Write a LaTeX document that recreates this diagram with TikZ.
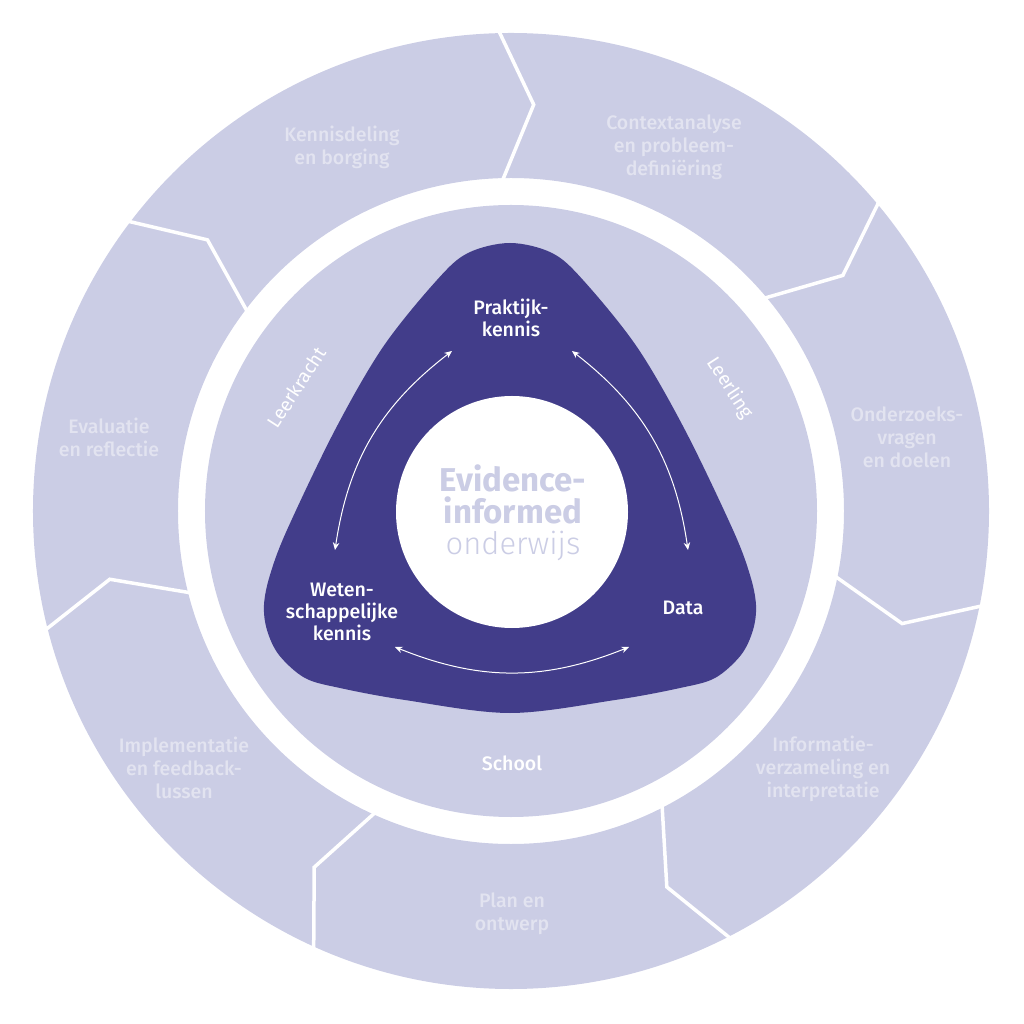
\documentclass[tikz,border=0pt]{standalone}
\usepackage{fontspec}
\setmainfont{Fira Sans}
\newfontfamily\fmed{Fira Sans Medium}
\newfontfamily\flight{Fira Sans Light}
\usetikzlibrary{arrows.meta}
\definecolor{lav}{HTML}{CBCDE5}
\definecolor{deep}{HTML}{423D8A}
\definecolor{faint}{HTML}{E2E3F0}
\begin{document}
\begin{tikzpicture}[x=1pt,y=1pt,
  seg/.style={white, line width=3.5pt, line join=miter},
  ringlbl/.style={font=\fmed\fontsize{19.5}{23}\selectfont, text=faint, align=center, inner sep=0pt},
  inlbl/.style={font=\fmed\fontsize{19.5}{22}\selectfont, text=white, align=center, inner sep=0pt},
  axislbl/.style={font=\fontsize{19}{22}\selectfont, text=white, inner sep=0pt},
  link/.style={white, line width=1pt, {Stealth[length=7.5pt,width=6.5pt]}-{Stealth[length=7.5pt,width=6.5pt]}}
]
\useasboundingbox (-511,-513) rectangle (513,511);
% outer ring and inner disk
\fill[lav, even odd rule] (0,0) circle (478) (0,0) circle (333);
\fill[lav] (0,0) circle (306);
% chevron dividers
\foreach \k in {0,...,6} {
  \pgfmathsetmacro\t{91.6-51.4286*\k}
  \pgfmathsetmacro\u{\t-4.8}
  \draw[seg] (\t:483) -- (\u:407) -- (\t:329);
}
% dark rounded triangle
\fill[deep, xshift=-1pt] plot[smooth cycle, tension=0.55] coordinates {
  (0,268) (42,258) (73,231) (127,164) (175,81) (223,-19) (240,-64) (246,-94)
  (243,-119) (231,-144) (205,-167) (170,-177) (105,-189) (0,-202)
  (-105,-189) (-170,-177) (-205,-167) (-231,-144) (-243,-119) (-246,-94)
  (-240,-64) (-223,-19) (-175,81) (-127,164) (-73,231) (-42,258)};
% white centre
\fill[white] (1,-1) circle (116);
% outer ring labels
\node[ringlbl] (kd) at (-169,363.5) {Kennisdeling\\en borging};
\node[ringlbl] (ca) at (163,363.5) {Contextanalyse\\en probleem-\\definiëring};
\node[ringlbl] (ov) at (396,73.5) {Onderzoeks-\\vragen\\en doelen};
\node[ringlbl] (iv) at (312,-257.5) {Informatie-\\verzameling en\\interpretatie};
\node[ringlbl] (po) at (1,-403) {Plan en\\ontwerp};
\node[ringlbl] (if) at (-327,-256.5) {Implementatie\\en feedback-\\lussen};
\node[ringlbl] (er) at (-402,74) {Evaluatie\\en reflectie};
% inner disk labels
\node[axislbl, rotate=57] (lk) at (-214.5,123.5) {Leerkracht};
\node[axislbl, rotate=-57] (ll) at (219,123) {Leerling};
\node[inlbl] (sc) at (1,-252.5) {School};
% triangle labels
\node[inlbl] (pk) at (0,193.5) {Praktijk-\\kennis};
\node[inlbl] (wk) at (-169,-100.5) {Weten-\\schappelijke\\kennis};
\node[inlbl] (da) at (172,-96.5) {Data};
% centre text
\node[font=\fontsize{33}{31.5}\selectfont, text=lav, align=center, inner sep=0pt] (ctr) at (2,-2)
  {{\bfseries Evidence-}\\{\bfseries informed}\\{\flight\fontsize{31}{31.5}\selectfont onderwijs}};
% arrows
\coordinate (a1) at (-59,160);
\coordinate (a2) at (-176,-39);
\coordinate (b1) at (61,160);
\coordinate (b2) at (177,-39);
\coordinate (c1) at (-116,-136);
\coordinate (c2) at (118,-136);
\draw[link] (a1) to[bend right=22] (a2);
\draw[link] (b1) to[bend left=22] (b2);
\draw[link] (c1) to[bend right=22] (c2);
\end{tikzpicture}
\end{document}
